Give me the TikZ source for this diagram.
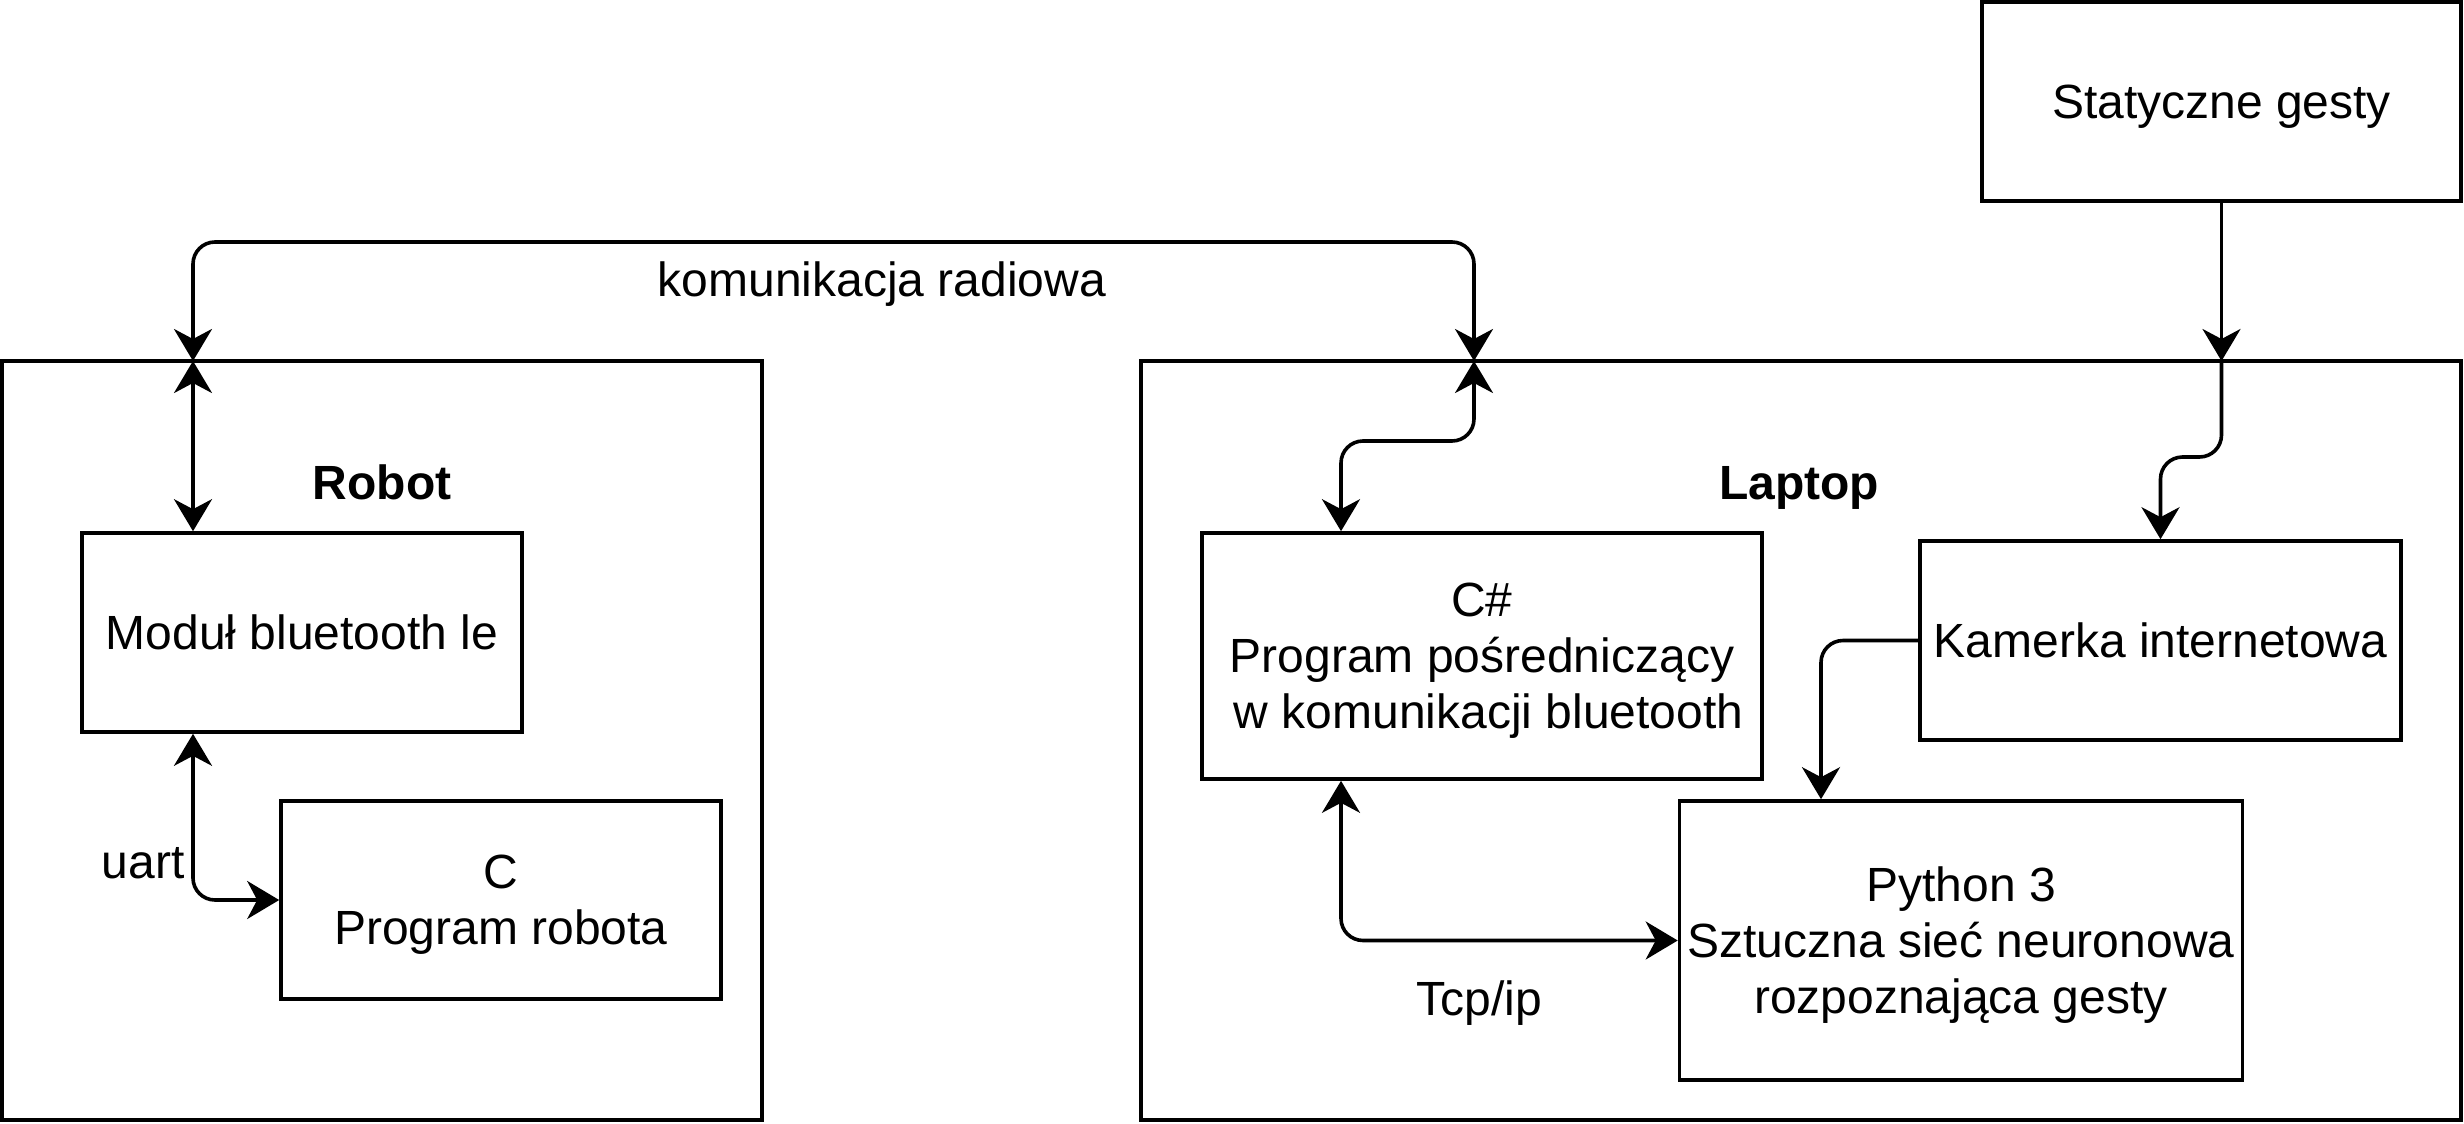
\documentclass[tikz,border=0pt]{standalone}
\usepackage{fontspec}
\setmainfont{Liberation Sans}
\usetikzlibrary{arrows.meta}
\tikzset{
	box/.style={draw, line width=0.9pt, inner sep=2pt, align=center, text depth=0pt},
	lbl/.style={font=\fontsize{12pt}{14pt}\selectfont\bfseries, anchor=base},
	wire/.style={line width=0.9pt, rounded corners=5.5pt},
	arr/.style={wire, -{Stealth[length=8pt, width=9.5pt, inset=2.5pt]}},
	both/.style={wire, {Stealth[length=8pt, width=9.5pt, inset=2.5pt]}-{Stealth[length=8pt, width=9.5pt, inset=2.5pt]}}
}
\begin{document}
\begin{tikzpicture}[x=0.25pt, y=-0.25pt, font=\fontsize{12pt}{14pt}\selectfont]
	\useasboundingbox (0,0) rectangle (2464,1124);
	% outer boxes
	\node[box, minimum width=190pt, minimum height=189.75pt] (robot) at (382,740.5) {};
	\node[box, minimum width=330pt, minimum height=189.75pt] (laptop) at (1801,740.5) {};
	\node[lbl] (robotlbl) at (382,499) {Robot};
	\node[lbl] (laptoplbl) at (1799,499) {Laptop};
	% inner boxes
	\node[box, minimum width=119.75pt, minimum height=49.75pt] (gesty) at (2221.5,101.5) {Statyczne gesty};
	\node[box, minimum width=110pt, minimum height=49.75pt] (modul) at (302,632.5) {Moduł bluetooth le};
	\node[box, minimum width=110pt, minimum height=49.5pt] (prog) at (501,900) {C\\Program robota};
	\node[box, minimum width=140pt, minimum height=61.5pt] (posr) at (1482,656) {C\#\\Program pośredniczący\\\ w komunikacji bluetooth};
	\node[box, minimum width=120.25pt, minimum height=49.75pt] (kam) at (2160.5,640.5) {Kamerka internetowa};
	\node[box, minimum width=140pt, minimum height=69.75pt] (siec) at (1961,940.5) {Python 3\\Sztuczna sieć neuronowa\\rozpoznająca gesty};
	% connection points on the outer boxes
	\coordinate (rtop) at (193,361);
	\coordinate (ltop) at (1474,361);
	\coordinate (wtop) at (2221.5,361);
	% connectors
	\draw[both] (rtop) -- (193,242) -- (1474,242) -- (ltop);
	\node (radio) at (882,284) {komunikacja radiowa};
	\draw[both] (rtop) -- (rtop |- modul.north);
	\draw[both] (rtop |- modul.south) |- (prog.west);
	\node (uart) at (143,863) {uart};
	\draw[both] (ltop) -- ++(0,80) -| ([xshift=-35.25pt]posr.north);
	\draw[arr] (gesty.south) -- (wtop);
	\draw[arr] (wtop) -- ++(0,96) -| (kam.north);
	\draw[arr] (kam.west) -| ([xshift=-35pt]siec.north);
	\draw[both] ([xshift=-35.25pt]posr.south) |- (siec.west);
	\node (tcp) at (1479,1003) {Tcp/ip};
\end{tikzpicture}
\end{document}
